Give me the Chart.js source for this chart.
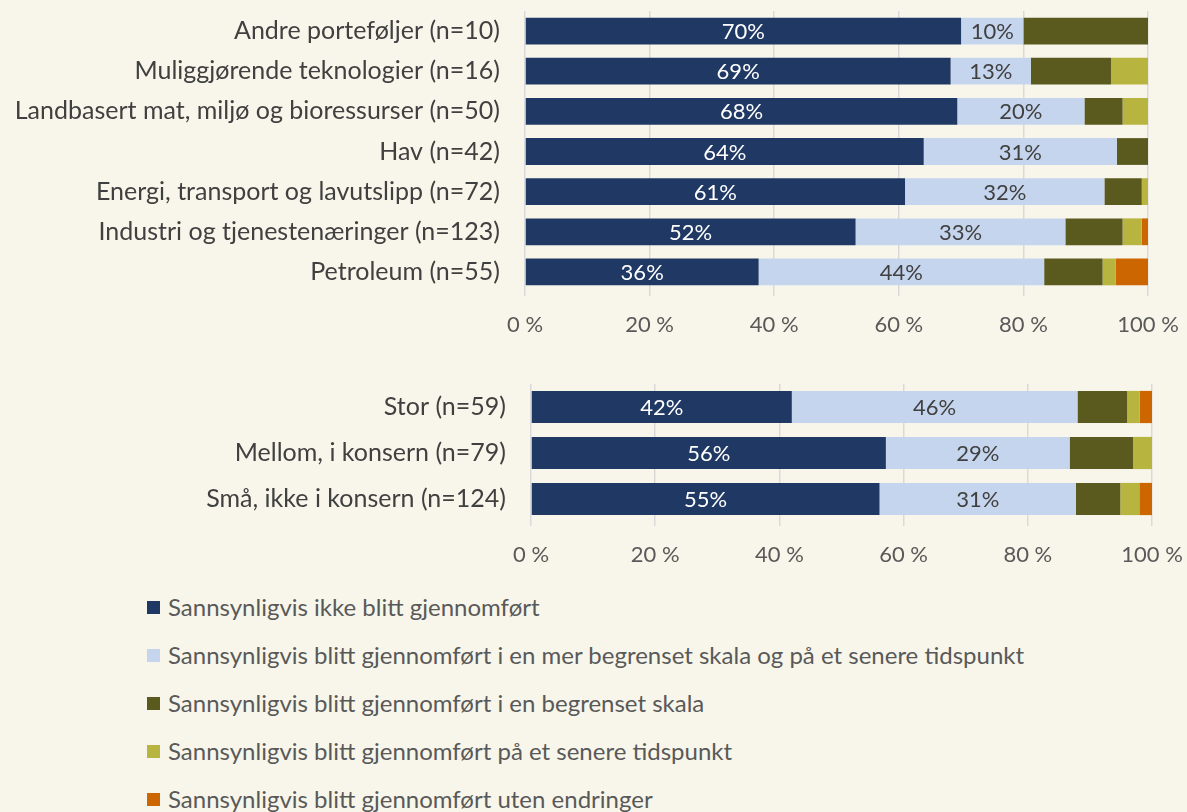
<!DOCTYPE html>
<html>
<head>
<meta charset="utf-8">
<script src="https://cdn.jsdelivr.net/npm/chart.js@4.4.1/dist/chart.umd.min.js"></script>
<style>
  html, body { margin: 0; padding: 0; background: #f8f6ea; }
  body { width: 1187px; height: 812px; position: relative; overflow: hidden; font-family: Lato, "Noto Sans", sans-serif; }
  canvas { position: absolute; left: 0; }
  #c1 { top: 0; }
  #c2 { top: 360px; }
  #legend { position: absolute; left: 147px; top: 0; }
  .li { position: absolute; left: 0; white-space: nowrap; font-size: 24px; color: #595959; line-height: 28px; }
  .sw { position: absolute; left: 0; top: 8px; width: 13px; height: 13px; }
  .lt { position: absolute; left: 21px; top: 0; }
</style>
</head>
<body>
<canvas id="c1" width="1187" height="342"></canvas>
<canvas id="c2" width="1187" height="212"></canvas>
<div id="legend"></div>
<script>
// ---- Data ----
const seriesNames = [
  'Sannsynligvis ikke blitt gjennomført',
  'Sannsynligvis blitt gjennomført i en mer begrenset skala og på et senere tidspunkt',
  'Sannsynligvis blitt gjennomført i en begrenset skala',
  'Sannsynligvis blitt gjennomført på et senere tidspunkt',
  'Sannsynligvis blitt gjennomført uten endringer'
];
const seriesColors = ['#1f3864', '#c6d5ee', '#5a5a1e', '#b7b440', '#cc6600'];

const topCategories = [
  'Andre porteføljer (n=10)',
  'Muliggjørende teknologier (n=16)',
  'Landbasert mat, miljø og bioressurser (n=50)',
  'Hav (n=42)',
  'Energi, transport og lavutslipp (n=72)',
  'Industri og tjenestenæringer (n=123)',
  'Petroleum (n=55)'
];
const topIkke               = [70, 69, 68, 64, 61, 52, 36];
const topMerBegrensetSenere = [10, 13, 20, 31, 32, 33, 44];
const topBegrenset          = [20, 13, 6, 5, 6, 9, 9];
const topSenere             = [0, 6, 4, 0, 1, 3, 2];
const topUtenEndringer      = [0, 0, 0, 0, 0, 1, 5];

const bottomCategories = [
  'Stor (n=59)',
  'Mellom, i konsern (n=79)',
  'Små, ikke i konsern (n=124)'
];
const botIkke               = [42, 56, 55];
const botMerBegrensetSenere = [46, 29, 31];
const botBegrenset          = [8, 10, 7];
const botSenere             = [2, 3, 3];
const botUtenEndringer      = [2, 0, 2];

const xTickValues = [0, 20, 40, 60, 80, 100];

// ---- Chart builder ----
const FONT = 'Lato, "Noto Sans", sans-serif';
Chart.defaults.font.family = FONT;

const labelPlugin = {
  id: 'segLabels',
  afterDatasetsDraw(chart) {
    const ctx = chart.ctx;
    const raw = chart.options.plugins.segLabels.raw;
    ctx.save();
    ctx.font = '22px ' + FONT;
    ctx.textAlign = 'center';
    ctx.textBaseline = 'middle';
    [0, 1].forEach(di => {
      const meta = chart.getDatasetMeta(di);
      meta.data.forEach((bar, j) => {
        const v = raw[di][j];
        if (!v) return;
        ctx.fillStyle = di === 0 ? '#ffffff' : '#404040';
        ctx.fillText(v + '%', (bar.x + bar.base) / 2, bar.y + 1);
      });
    });
    ctx.restore();
  }
};

function build(id, categories, series, yWidth, padTop, padRight, barPct) {
  const sums = categories.map((_, j) => series.reduce((s, arr) => s + arr[j], 0));
  const datasets = series.map((arr, i) => ({
    label: seriesNames[i],
    data: arr.map((v, j) => v / sums[j] * 100),
    backgroundColor: seriesColors[i],
    borderWidth: 0,
    barPercentage: barPct,
    categoryPercentage: 1
  }));
  return new Chart(document.getElementById(id), {
    type: 'bar',
    data: { labels: categories, datasets },
    plugins: [labelPlugin],
    options: {
      indexAxis: 'y',
      responsive: false,
      animation: false,
      layout: { padding: { top: padTop, right: padRight, left: 0, bottom: 0 } },
      plugins: {
        legend: { display: false },
        tooltip: { enabled: false },
        segLabels: { raw: series }
      },
      scales: {
        x: {
          stacked: true,
          min: 0, max: 100,
          afterBuildTicks: s => { s.ticks = xTickValues.map(v => ({ value: v })); },
          afterFit: s => { s.height = 50; s.paddingLeft = 0; s.paddingRight = 0; },
          grid: { color: '#d9d9d9', lineWidth: 1.5, drawTicks: true, tickLength: 4 },
          border: { display: false },
          ticks: {
            color: '#595959',
            font: { size: 22 },
            padding: 16,
            maxRotation: 0,
            callback: v => v + ' %'
          }
        },
        y: {
          stacked: true,
          afterFit: s => { s.width = yWidth; s.paddingTop = 0; s.paddingBottom = 0; },
          grid: { display: false, drawTicks: false },
          border: { display: false },
          ticks: { color: '#404040', font: { size: 25 }, padding: 25 }
        }
      }
    }
  });
}

build('c1', topCategories,
  [topIkke, topMerBegrensetSenere, topBegrenset, topSenere, topUtenEndringer],
  525, 11, 39, 0.667);
build('c2', bottomCategories,
  [botIkke, botMerBegrensetSenere, botBegrenset, botSenere, botUtenEndringer],
  531, 24, 35, 0.7);

// ---- Legend ----
const legend = document.getElementById('legend');
const legendY = [607, 655, 703, 751, 799];
seriesNames.forEach((name, i) => {
  const d = document.createElement('div');
  d.className = 'li';
  d.style.top = (legendY[i] - 14) + 'px';
  d.innerHTML = '<span class="sw" style="background:' + seriesColors[i] + '"></span><span class="lt"></span>';
  d.querySelector('.lt').textContent = name;
  legend.appendChild(d);
});
</script>
</body>
</html>
